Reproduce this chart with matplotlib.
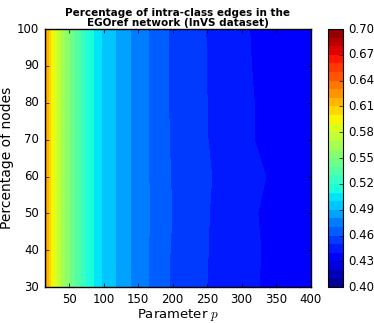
import numpy as np
import matplotlib
matplotlib.use("Agg")
import matplotlib.pyplot as plt

# parameter p (x) and percentage of nodes (y)
p_values = [15, 20, 25, 30, 40, 50, 60, 75, 100, 125, 150, 200, 250, 300, 350, 400]
node_pct = [30, 40, 50, 60, 70, 80, 90, 100]

# left part: nearly the same for every row
left_part = [0.633, 0.612, 0.596, 0.584, 0.566, 0.552, 0.538, 0.520, 0.498, 0.487, 0.475]

# right part (p = 200 .. 400), one row per percentage of nodes
right_30 = [0.4583, 0.4500, 0.4430, 0.4370, 0.4345]
right_40 = [0.4588, 0.4502, 0.4435, 0.4372, 0.4348]
right_50 = [0.4597, 0.4505, 0.4428, 0.4368, 0.4343]
right_60 = [0.4590, 0.4508, 0.4447, 0.4380, 0.4350]
right_70 = [0.4585, 0.4502, 0.4418, 0.4368, 0.4342]
right_80 = [0.4580, 0.4500, 0.4420, 0.4365, 0.4340]
right_90 = [0.4578, 0.4498, 0.4415, 0.4362, 0.4338]
right_100 = [0.4578, 0.4497, 0.4412, 0.4360, 0.4335]

rights = [right_30, right_40, right_50, right_60, right_70, right_80, right_90, right_100]
Z = np.array([left_part + r for r in rights])

levels = np.linspace(0.40, 0.70, 31)
cbar_ticks = [0.40, 0.43, 0.46, 0.49, 0.52, 0.55, 0.58, 0.61, 0.64, 0.67, 0.70]

plt.style.use("classic")
plt.rcParams["font.family"] = "DejaVu Sans"

fig = plt.figure(figsize=(3.74, 3.23), dpi=100, facecolor="white")
ax = fig.add_axes([0.120, 0.111, 0.711, 0.799])
cax = fig.add_axes([0.877, 0.111, 0.0388, 0.799])

X, Y = np.meshgrid(p_values, node_pct)
cs = ax.contourf(X, Y, Z, levels=levels, cmap="jet", vmin=0.40, vmax=0.70)

ax.set_xlim(15, 400)
ax.set_ylim(30, 100)
ax.set_xticks(range(50, 401, 50))
ax.set_yticks(range(30, 101, 10))
ax.tick_params(labelsize=8.5, direction="in", top=True, right=True, length=3, width=0.5)
ax.set_xlabel("Parameter $p$", fontsize=9.5, labelpad=1)
ax.set_ylabel("Percentage of nodes", fontsize=10, labelpad=2)
ax.set_title("Percentage of intra-class edges in the\nEGOref network (InVS dataset)",
             fontsize=7.5, fontweight="bold", pad=2, linespacing=1.0)

cb = fig.colorbar(cs, cax=cax, ticks=cbar_ticks)
cb.ax.set_yticklabels([f"{t:.2f}" for t in cbar_ticks])
cb.ax.tick_params(labelsize=8.5, direction="in", length=3, width=0.5)
cb.outline.set_linewidth(0.8)

fig.savefig("out.png", dpi=100, facecolor="white")
